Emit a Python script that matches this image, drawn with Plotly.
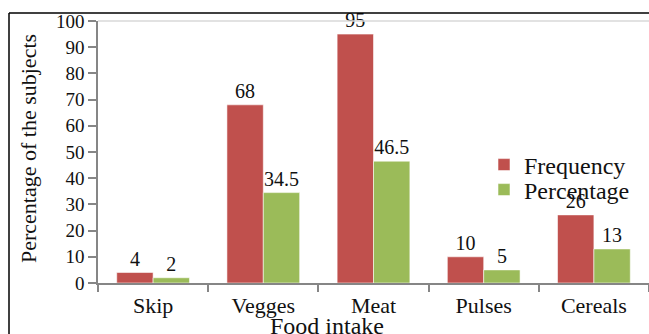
import plotly.graph_objects as go

# Food intake categories and the two measured series
categories = ["Skip", "Vegges", "Meat", "Pulses", "Cereals"]
frequency = [4, 68, 95, 10, 26]
percentage = [2, 34.5, 46.5, 5, 13]

W, H = 649, 334
ML, MR, MT, MB = 98, 0, 21, 51
PW = W - ML - MR
PH = H - MT - MB

FONT = "Liberation Serif, Times New Roman, serif"
RED = "#C0504D"
GREEN = "#9BBB59"
AXIS = "#868686"


def px_x(px):
    return (px - ML) / PW


def px_y(py):
    return (H - MB - py) / PH


label_font = dict(family=FONT, size=20, color="#111")
bar_edge = dict(color="rgba(255,255,255,0.55)", width=1)

fig = go.Figure()
fig.add_trace(go.Bar(
    name="Frequency", x=categories, y=frequency,
    marker=dict(color=RED, line=bar_edge),
    text=[str(v) for v in frequency], textposition="outside",
    textfont=label_font, constraintext="none", cliponaxis=False,
    legend="legend",
))
fig.add_trace(go.Bar(
    name="Percentage", x=categories, y=percentage,
    marker=dict(color=GREEN, line=bar_edge),
    text=[f"{v:g}" for v in percentage], textposition="outside",
    textfont=label_font, constraintext="none", cliponaxis=False,
    legend="legend2",
))

legend_style = dict(
    xanchor="left", yanchor="middle", bgcolor="rgba(0,0,0,0)",
    font=dict(family=FONT, size=24, color="#111"), itemwidth=30,
)

fig.update_layout(
    width=W, height=H,
    margin=dict(l=ML, r=MR, t=MT, b=MB, pad=0),
    paper_bgcolor="white", plot_bgcolor="white",
    barmode="group", bargap=0.34, bargroupgap=0,
    font=dict(family=FONT, color="#111"),
    showlegend=True,
    legend=dict(x=px_x(484), y=px_y(165), **legend_style),
    legend2=dict(x=px_x(484), y=px_y(190), **legend_style),
    xaxis=dict(
        showline=True, linecolor=AXIS, linewidth=1.5,
        ticks="outside", ticklen=7, tickcolor=AXIS, tickwidth=1.5,
        tickson="boundaries", showgrid=False, ticklabelstandoff=2,
        tickfont=dict(family=FONT, size=22, color="#111"),
    ),
    yaxis=dict(
        range=[0, 100], dtick=10, showline=True, linecolor=AXIS, linewidth=1.5,
        ticks="outside", ticklen=8, tickcolor=AXIS, tickwidth=1.5,
        showgrid=False, zeroline=False,
        tickfont=dict(family=FONT, size=19, color="#111"),
    ),
    shapes=[
        # light border line along the top of the plot area
        dict(type="line", xref="paper", yref="paper", x0=0, x1=1, y0=1, y1=1,
             line=dict(color="#D9D9D9", width=1.5)),
        # outer chart frame (top and left edges)
        dict(type="line", xref="paper", yref="paper",
             x0=px_x(9), x1=px_x(W + 2), y0=px_y(13), y1=px_y(13),
             line=dict(color="black", width=1.5)),
        dict(type="line", xref="paper", yref="paper",
             x0=px_x(9), x1=px_x(9), y0=px_y(13), y1=px_y(H + 2),
             line=dict(color="black", width=1.5)),
    ],
    annotations=[
        dict(text="Percentage of the subjects", xref="paper", yref="paper",
             x=px_x(28), y=px_y(149), textangle=-90, showarrow=False,
             xanchor="center", yanchor="middle",
             font=dict(family=FONT, size=22, color="#111")),
        dict(text="Food intake", xref="paper", yref="paper",
             x=px_x(327), y=px_y(311), showarrow=False,
             xanchor="center", yanchor="top",
             font=dict(family=FONT, size=24, color="#111")),
    ],
)

fig.write_html("out.html")
